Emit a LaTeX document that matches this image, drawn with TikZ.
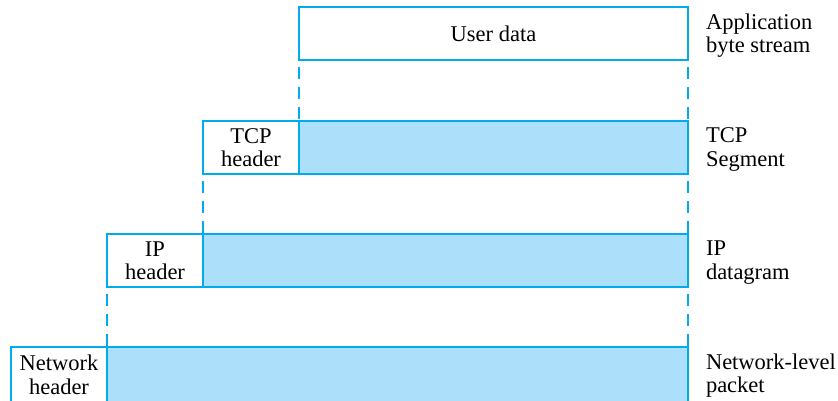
\documentclass[tikz,border=0pt]{standalone}
\usepackage{fontspec}
\setmainfont{Liberation Serif}
\definecolor{edgeblue}{RGB}{0,172,238}
\definecolor{fillblue}{RGB}{172,223,250}
\tikzset{
  box/.style={draw=edgeblue, line width=1.4pt, inner sep=0pt, outer sep=0pt,
    anchor=north west, minimum height=53pt, align=center},
  hdrbox/.style={box, fill=white, minimum width=96pt},
  databox/.style={box, fill=fillblue},
  layerlabel/.style={inner sep=0pt, outer sep=0pt, anchor=north west, align=left},
  dashline/.style={draw=edgeblue, line width=1.4pt, dash pattern=on 12pt off 8pt, dash phase=13pt}
}
\begin{document}
\begin{tikzpicture}[x=1pt, y=-1pt, font=\fontsize{22.5}{23.5}\selectfont]
  \useasboundingbox (0,0) rectangle (838,400);

  % application layer
  \node[box, fill=white, minimum width=389pt] (ud) at (299,7) {User data};

  % transport layer
  \node[hdrbox] (tcph) at (203,121) {TCP\\header};
  \node[databox, minimum width=389pt] (tcpd) at (299,121) {};

  % network layer
  \node[hdrbox] (iph) at (107,234) {IP\\header};
  \node[databox, minimum width=485pt] (ipd) at (203,234) {};

  % link layer
  \node[hdrbox, minimum height=56pt] (neth) at (11,347) {Network\\header};
  \node[databox, minimum width=581pt, minimum height=56pt] (netd) at (107,347) {};

  % layer names
  \node[layerlabel] (lapp) at ([xshift=18pt, yshift=-6.5pt]ud.north east) {Application\\byte stream};
  \node[layerlabel] (ltcp) at ([xshift=18pt, yshift=-7pt]tcpd.north east) {TCP\\Segment};
  \node[layerlabel] (lip)  at ([xshift=18pt, yshift=-7pt]ipd.north east) {IP\\datagram};
  \node[layerlabel] (lnet) at ([xshift=18pt, yshift=-6.5pt]netd.north east) {Network-level\\packet};

  % dashed guide lines between layers
  \draw[dashline] (ud.south west) -- (tcpd.north west);
  \draw[dashline] (ud.south east) -- (tcpd.north east);
  \draw[dashline] (tcph.south west) -- (iph.north east);
  \draw[dashline] (tcpd.south east) -- (ipd.north east);
  \draw[dashline] (iph.south west) -- (neth.north east);
  \draw[dashline] (ipd.south east) -- (netd.north east);
\end{tikzpicture}
\end{document}
